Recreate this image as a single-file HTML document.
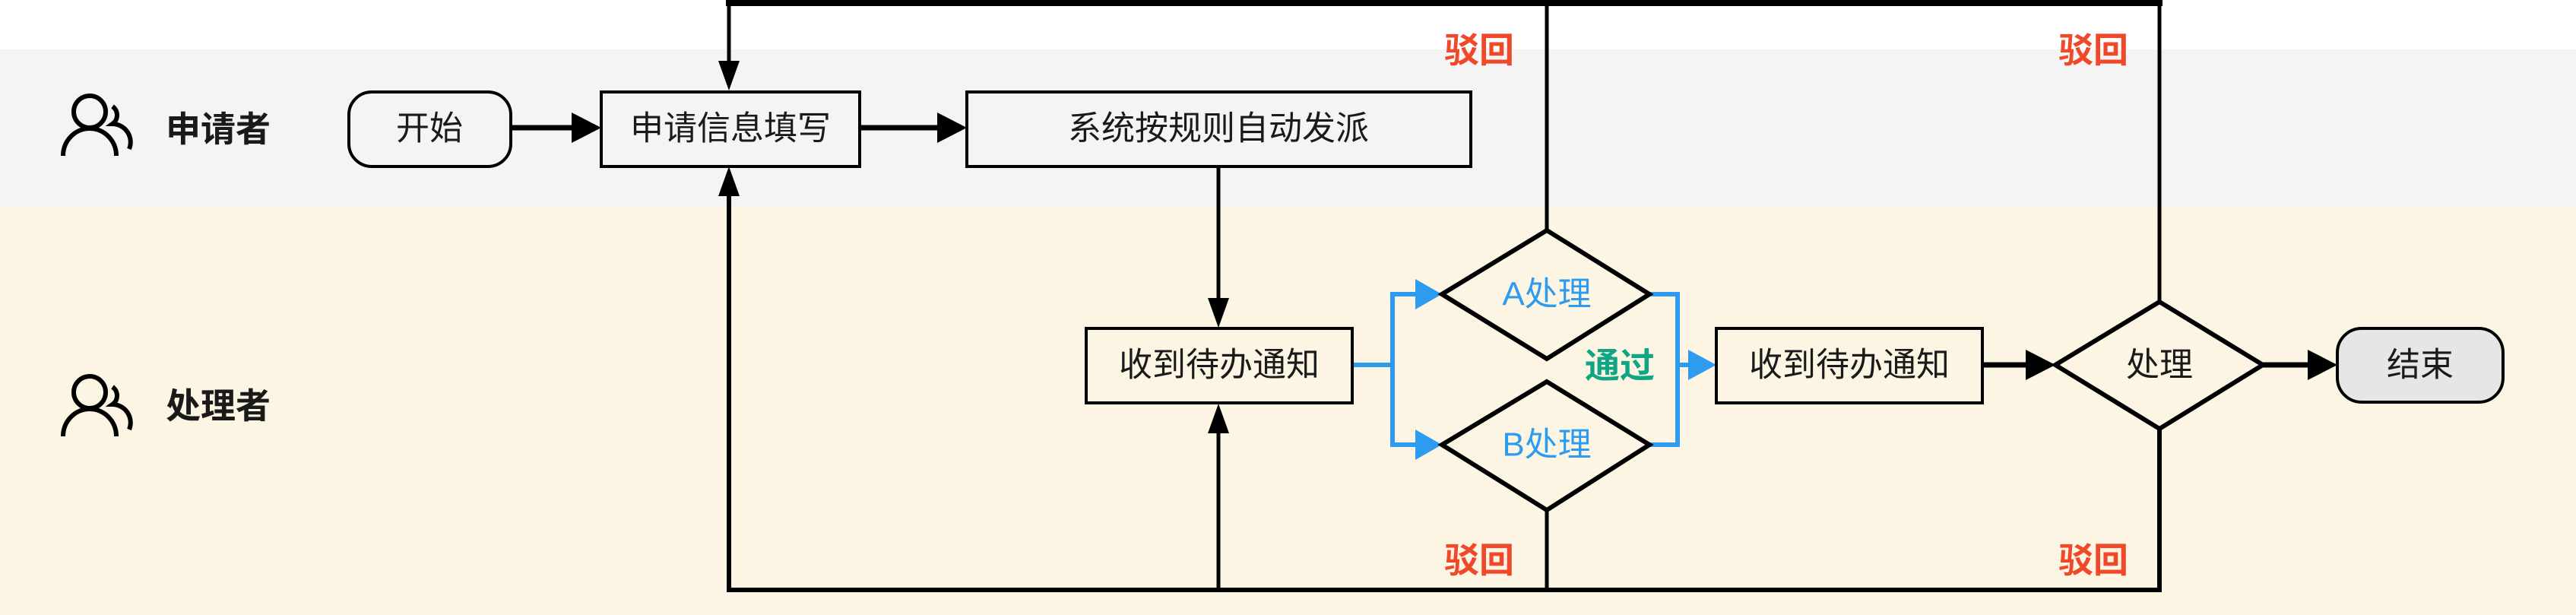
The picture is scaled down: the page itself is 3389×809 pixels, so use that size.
<!DOCTYPE html>
<html><head><meta charset="utf-8"><style>
html,body{margin:0;padding:0;background:#fff;}
svg{display:block;}
text{font-family:"Liberation Sans","Noto Sans CJK SC",sans-serif;}
</style></head><body>
<svg width="3389" height="809" viewBox="0 0 3389 809" xmlns="http://www.w3.org/2000/svg">
<rect x="0" y="0" width="3389" height="65" fill="#ffffff"/>
<rect x="0" y="65" width="3389" height="207" fill="#f4f4f4"/>
<rect x="0" y="272" width="3389" height="537" fill="#fdf5e3"/>

<g fill="none" stroke="#000" stroke-width="6">
  <circle cx="118" cy="147" r="21"/>
  <path d="M83 205 A35 36 0 0 1 153 205"/>
  <path d="M148 140 A14 14 0 0 1 148 163 A24 24 0 0 1 170 196"/>
  <circle cx="118" cy="516" r="21"/>
  <path d="M83 574 A35 36 0 0 1 153 574"/>
  <path d="M148 509 A14 14 0 0 1 148 532 A24 24 0 0 1 170 565"/>
</g>
<text x="218" y="170" font-size="46" font-weight="bold" fill="#1a1a1a" dominant-baseline="central">申请者</text>
<text x="218" y="534" font-size="46" font-weight="bold" fill="#1a1a1a" dominant-baseline="central">处理者</text>

<g fill="none" stroke="#000">
  <path d="M955 4 L2845 4" stroke-width="8"/>
  <path d="M959 90 L959 4" stroke-width="5"/>
  <path d="M2841 4 L2841 397" stroke-width="5"/>
  <path d="M2035 4 L2035 303" stroke-width="5"/>
  <path d="M959 250 L959 776 L2841 776 L2841 564" stroke-width="6"/>
  <path d="M2035 671 L2035 776" stroke-width="5"/>
  <path d="M1603 776 L1603 560" stroke-width="5"/>
  <path d="M1603 219 L1603 400" stroke-width="5"/>
  <path d="M672 168 L760 168" stroke-width="7"/>
  <path d="M1131 168 L1240 168" stroke-width="7"/>
  <path d="M2608 480 L2675 480" stroke-width="7"/>
  <path d="M2977 480 L3045 480" stroke-width="7"/>
</g>
<g fill="#000">
  <polygon points="945,80 973,80 959,119"/>
  <polygon points="945,258 973,258 959,219"/>
  <polygon points="1589,392 1617,392 1603,431"/>
  <polygon points="1589,570 1617,570 1603,531"/>
  <polygon points="752,148 752,188 791,168"/>
  <polygon points="1233,148 1233,188 1272,168"/>
  <polygon points="2665,460 2665,500 2704,480"/>
  <polygon points="3036,460 3036,500 3075,480"/>
</g>

<g fill="none" stroke="#2d9bef" stroke-width="6">
  <path d="M1779 480 L1832 480 M1832 387 L1832 585 M1829 387 L1870 387 M1829 585 L1870 585"/>
  <path d="M2170 387 L2207 387 L2207 585 L2170 585 M2207 480 L2225 480"/>
</g>
<g fill="#2d9bef">
  <polygon points="1862,367 1862,407 1897,387"/>
  <polygon points="1862,565 1862,605 1897,585"/>
  <polygon points="2221,460 2221,500 2258,480"/>
</g>

<g stroke="#000" stroke-width="4">
  <rect x="459" y="121" width="213" height="98" rx="30" fill="#f4f4f4"/>
  <rect x="791" y="121" width="340" height="98" fill="#f4f4f4"/>
  <rect x="1272" y="121" width="663" height="98" fill="#f4f4f4"/>
  <rect x="1429" y="432" width="350" height="98" fill="#fdf5e3"/>
  <rect x="2258" y="432" width="350" height="98" fill="#fdf5e3"/>
  <rect x="3075" y="432" width="218" height="97" rx="32" fill="#e6e6e6"/>
</g>
<g stroke="#000" stroke-width="6" fill="#fdf5e3">
  <polygon points="2035,303 2170,387 2035,472 1897,387"/>
  <polygon points="2035,502 2170,585 2035,671 1897,585"/>
  <polygon points="2841,397 2977,480 2841,564 2704,480"/>
</g>

<g font-size="44" fill="#1a1a1a" text-anchor="middle" dominant-baseline="central">
  <text x="565" y="169">开始</text>
  <text x="961" y="169">申请信息填写</text>
  <text x="1603" y="169">系统按规则自动发派</text>
  <text x="1604" y="480">收到待办通知</text>
  <text x="2433" y="480">收到待办通知</text>
  <text x="2841" y="480">处理</text>
  <text x="3184" y="480">结束</text>
  <text x="2035" y="387" fill="#2d9bef">A处理</text>
  <text x="2035" y="585" fill="#2d9bef">B处理</text>
</g>
<g font-size="46" font-weight="bold" text-anchor="middle" dominant-baseline="central">
  <text x="2131" y="481" fill="#11a683">通过</text>
  <text x="1946" y="66" fill="#f0492a">驳回</text>
  <text x="2754" y="66" fill="#f0492a">驳回</text>
  <text x="1946" y="737" fill="#f0492a">驳回</text>
  <text x="2754" y="737" fill="#f0492a">驳回</text>
</g>
</svg>
</body></html>
